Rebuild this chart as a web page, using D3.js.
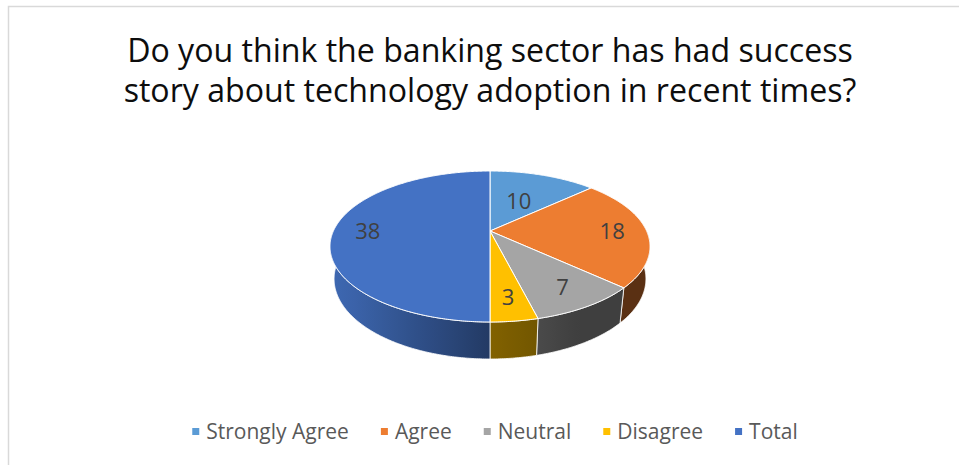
<!DOCTYPE html>
<html>
<head>
<meta charset="utf-8">
<script src="https://cdn.jsdelivr.net/npm/d3@7"></script>
<style>
  html, body { margin: 0; padding: 0; background: #fff; }
  svg { display: block; }
</style>
</head>
<body>
<svg id="chart" width="959" height="465"></svg>
<script>
// Survey answers
const categories = ["Strongly Agree", "Agree", "Neutral", "Disagree", "Total"];
const values = [10, 18, 7, 3, 38];
const colors = ["#5B9BD5", "#ED7D31", "#A5A5A5", "#FFC000", "#4472C4"];
const titleLines = [
  "Do you think the banking sector has had success",
  "story about technology adoption in recent times?"
];

const W = 959, H = 465;
const svg = d3.select("#chart");
const FONT = "'Open Sans', Lato, sans-serif";

// chart frame
svg.append("rect")
  .attr("x", 8.5).attr("y", 6.5)
  .attr("width", W + 20).attr("height", H + 20)
  .attr("fill", "#fff")
  .attr("stroke", "#d9d9d9").attr("stroke-width", 1.5);

// title, sized so the first line spans the chart's title width
const title = svg.append("text")
  .attr("text-anchor", "middle")
  .attr("font-family", FONT)
  .attr("font-size", 29)
  .attr("fill", "#0d0d0d");
const tspans = titleLines.map((t, i) =>
  title.append("tspan").attr("x", 490).attr("y", 62 + i * 40).text(t));
const w0 = tspans[0].node().getComputedTextLength();
title.attr("font-size", 29 * 726 / w0);

// --- 3D pie: tilted disc seen in perspective ---
const cx = 490, cy = 231;      // screen position of disc centre
const S = 156.6;               // projected radius scale
const tilt = 27.5 * Math.PI / 180;
const sinE = Math.sin(tilt), cosE = Math.cos(tilt);
const RD = 0.2316;             // radius / camera distance
const thick = 0.2348;          // disc thickness relative to radius

function project(a, r, h) {
  const x3 = r * Math.sin(a), z3 = -r * Math.cos(a), y3 = h;
  const depth = 1 - RD * (z3 * cosE + y3 * sinE);
  const sy = z3 * sinE - y3 * cosE;
  return [cx + S * x3 / depth, cy + S * sy / depth];
}

function arcPoints(a0, a1, r, h) {
  const n = Math.max(2, Math.ceil(Math.abs(a1 - a0) / 0.01));
  return d3.range(n + 1).map(i => project(a0 + (a1 - a0) * i / n, r, h));
}

const pie = d3.pie().sort(null).value(d => d.value);
const slices = pie(categories.map((c, i) => ({ name: c, value: values[i], color: colors[i] })));

const line = d3.line();
const defs = svg.append("defs");

// side lighting: light from the left, front-right faces are darkest
function shade(a) {
  const deg = a * 180 / Math.PI;
  const t = Math.max(0, Math.min(1, (deg - 150) / 120));
  return 0.38 + 0.52 * t;
}
function darken(col, f) {
  const c = d3.rgb(col);
  return d3.rgb(c.r * f, c.g * f, c.b * f).formatHex();
}

const lo = Math.PI / 2 - 0.05, hi = 3 * Math.PI / 2 + 0.05;
const sideG = svg.append("g");
slices.forEach((s, i) => {
  const a0 = Math.max(s.startAngle, lo), a1 = Math.min(s.endAngle, hi);
  if (a1 <= a0) return;
  const top = arcPoints(a0, a1, 1, 0);
  const bottom = arcPoints(a0, a1, 1, -thick).reverse();
  const x0 = project(a0, 1, 0)[0], x1 = project(a1, 1, 0)[0];
  const grad = defs.append("linearGradient")
    .attr("id", "side" + i)
    .attr("gradientUnits", "userSpaceOnUse")
    .attr("x1", x0).attr("x2", x1).attr("y1", 0).attr("y2", 0);
  d3.range(9).forEach(j => {
    const a = a0 + (a1 - a0) * j / 8;
    grad.append("stop").attr("offset", j / 8).attr("stop-color", darken(s.data.color, shade(a)));
  });
  sideG.append("path")
    .attr("d", line(top.concat(bottom)) + "Z")
    .attr("fill", `url(#side${i})`)
    .attr("stroke", "#ffffff").attr("stroke-width", 0.8).attr("stroke-linejoin", "round");
});

// top faces
const topG = svg.append("g");
slices.forEach(s => {
  const pts = [project(0, 0, 0)].concat(arcPoints(s.startAngle, s.endAngle, 1, 0));
  topG.append("path")
    .attr("d", line(pts) + "Z")
    .attr("fill", s.data.color)
    .attr("stroke", "#ffffff").attr("stroke-width", 1).attr("stroke-linejoin", "round");
});

// value labels: placed on the mid-angle of each slice, pulled in for narrow back slices
const labelR = d => (d.endAngle - d.startAngle) < 0.9 && Math.cos((d.startAngle + d.endAngle) / 2) > 0 ? 0.5 : 0.78;
svg.append("g").selectAll("text").data(slices).join("text")
  .attr("x", d => project((d.startAngle + d.endAngle) / 2, labelR(d), 0)[0])
  .attr("y", d => project((d.startAngle + d.endAngle) / 2, labelR(d), 0)[1])
  .attr("dy", "0.36em")
  .attr("text-anchor", "middle")
  .attr("font-family", FONT)
  .attr("font-size", 22)
  .attr("fill", "#404040")
  .text(d => d.data.value);

// legend
const legend = svg.append("g");
let lx = 0;
const LFS = 21;
categories.forEach((c, i) => {
  const g = legend.append("g").attr("transform", `translate(${lx},0)`);
  g.append("rect").attr("x", 0).attr("y", -4).attr("width", 7).attr("height", 7).attr("fill", colors[i]);
  const t = g.append("text").attr("x", 14).attr("y", 0).attr("dy", "0.35em")
    .attr("font-family", FONT).attr("font-size", LFS).attr("fill", "#595959").text(c);
  lx += 14 + t.node().getComputedTextLength() + 32;
});
const legendW = lx - 32;
legend.attr("transform", `translate(${495 - legendW / 2},432)`);
</script>
</body>
</html>
